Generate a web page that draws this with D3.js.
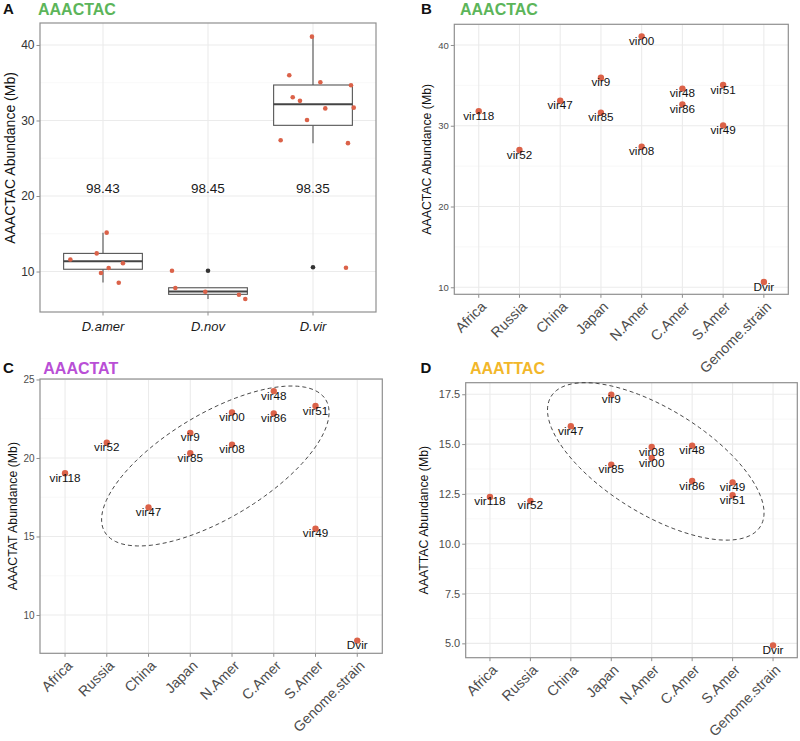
<!DOCTYPE html>
<html><head><meta charset="utf-8">
<script src="https://cdn.jsdelivr.net/npm/d3@7"></script>
<style>
body{margin:0;background:#fff}
text{font-family:"Liberation Sans",Arial,Helvetica,sans-serif}
</style>
</head><body>
<script>
// ---------------- DATA ----------------
// Panel A (boxplot by species)
const speciesA = ["D.amer", "D.nov", "D.vir"];
const boxQ1 = [10.3, 6.98, 29.36];
const boxMedian = [11.35, 7.37, 32.15];
const boxQ3 = [12.4, 7.85, 34.7];
const whiskerLow = [8.55, 6.36, 26.98];
const whiskerHigh = [15.15, 7.85, 41.1];
const outlierSpecies = ["D.nov", "D.vir"];
const outlierValues = [10.1, 10.56];
const identityLabels = ["98.43", "98.45", "98.35"];
const identityLabelValue = 21;
// jittered points (species, value, jitter offset as fraction of category step)
const jitterSpecies = ["D.amer","D.amer","D.amer","D.amer","D.amer","D.amer","D.amer",
  "D.nov","D.nov","D.nov","D.nov","D.nov",
  "D.vir","D.vir","D.vir","D.vir","D.vir","D.vir","D.vir","D.vir","D.vir","D.vir","D.vir","D.vir"];
const jitterValues = [11.6, 12.4, 15.15, 10.46, 11.1, 9.8, 8.52,
  10.1, 7.81, 7.33, 6.93, 6.36,
  41.1, 36.0, 35.06, 34.66, 33.07, 32.6, 31.6, 31.7, 30.07, 27.38, 27.0, 10.5];
const jitterOffsets = [-0.311, -0.06, 0.035, 0.054, 0.19, -0.019, 0.15,
  -0.343, -0.311, -0.026, 0.295, 0.355,
  -0.01, -0.226, 0.07, 0.362, -0.193, -0.124, 0.117, 0.388, -0.057, -0.308, 0.333, 0.314];

// Panels B, C, D (by strain / region)
const regions = ["Africa", "Russia", "China", "Japan", "N.Amer", "C.Amer", "S.Amer", "Genome.strain"];
const strains = ["vir118","vir52","vir47","vir9","vir85","vir00","vir08","vir48","vir86","vir51","vir49","Dvir"];
const strainRegion = ["Africa","Russia","China","Japan","Japan","N.Amer","N.Amer","C.Amer","C.Amer","S.Amer","S.Amer","Genome.strain"];
const aaactac = [31.8, 27.0, 33.1, 35.95, 31.6, 41.07, 27.4, 34.6, 32.65, 35.04, 30.04, 10.66];
const aaactat = [19.03, 20.97, 16.85, 21.6, 20.3, 22.9, 20.85, 24.26, 22.83, 23.31, 15.5, 8.37];
const aaattac = [12.35, 12.15, 15.9, 17.48, 13.97, 14.3, 14.85, 14.92, 13.15, 12.43, 13.08, 4.9];

const ticksB = [10, 20, 30, 40];
const ticksC = [10, 15, 20, 25];
const ticksD = [5.0, 7.5, 10.0, 12.5, 15.0, 17.5];
const ticksA = [10, 20, 30, 40];

// ---------------- STYLE ----------------
const PT = "#db6249";
const GRID = "#ebebeb", GRIDMIN = "#f4f4f4", BORDER = "#8f8f8f", TICK = "#8f8f8f";
const AXTXT = "#4d4d4d";

const svg = d3.select("body").append("svg").attr("width", 800).attr("height", 741);
svg.append("rect").attr("width", 800).attr("height", 741).attr("fill", "#fff");

function minorOf(t) {
  const out = [];
  for (let i = 0; i < t.length - 1; i++) out.push((t[i] + t[i + 1]) / 2);
  return out;
}

function frame(g, x, y, L, T, R, B, ticks, fmt, tickFont, tickColor) {
  const minor = minorOf(ticks);
  g.selectAll(".gmin").data(minor).join("line")
    .attr("x1", L).attr("x2", R).attr("y1", d => y(d)).attr("y2", d => y(d))
    .attr("stroke", GRIDMIN).attr("stroke-width", 0.6);
  g.selectAll(".gmaj").data(ticks).join("line")
    .attr("x1", L).attr("x2", R).attr("y1", d => y(d)).attr("y2", d => y(d))
    .attr("stroke", GRID).attr("stroke-width", 1.1);
  g.selectAll(".gx").data(x.domain()).join("line")
    .attr("x1", d => x(d)).attr("x2", d => x(d)).attr("y1", T).attr("y2", B)
    .attr("stroke", GRID).attr("stroke-width", 1.1);
  const ya = g.append("g").attr("transform", `translate(${L},0)`)
    .call(d3.axisLeft(y).tickValues(ticks).tickFormat(fmt).tickSize(3.5).tickPadding(2));
  ya.select(".domain").remove();
  ya.selectAll(".tick line").attr("stroke", TICK);
  ya.selectAll(".tick text").attr("fill", tickColor).style("font-size", tickFont + "px")
    .style("font-family", '"Liberation Sans",Arial,sans-serif');
  g.selectAll(".xt").data(x.domain()).join("line")
    .attr("x1", d => x(d)).attr("x2", d => x(d)).attr("y1", B).attr("y2", B + 3.5)
    .attr("stroke", TICK);
  g.append("rect").attr("x", L).attr("y", T).attr("width", R - L).attr("height", B - T)
    .attr("fill", "none").attr("stroke", BORDER).attr("stroke-width", 1.2);
}

function heading(letter, lx, title, tx, base, color, size) {
  svg.append("text").attr("x", lx).attr("y", base).text(letter)
    .style("font-weight", "bold").style("font-size", "15px").attr("fill", "#111");
  svg.append("text").attr("x", tx).attr("y", base + 1).text(title)
    .style("font-weight", "bold").style("font-size", size + "px").attr("fill", color);
}

function yTitle(text, cx, cy, size) {
  svg.append("text").attr("transform", `translate(${cx},${cy}) rotate(-90)`)
    .attr("text-anchor", "middle").attr("dy", "0.35em").text(text)
    .style("font-size", size + "px").attr("fill", "#111");
}

// ---------------- PANEL A ----------------
(function () {
  const L = 40, T = 23, R = 376, B = 312;
  const g = svg.append("g");
  const x = d3.scalePoint().domain(speciesA).range([L, R]).padding(0.6);
  const y = d3.scaleLinear().domain([4.64, 42.91]).range([B, T]);
  frame(g, x, y, L, T, R, B, ticksA, d3.format("d"), 12, "#333");
  const step = x.step(), bw = 0.75 * step;
  const bx = g.append("g");
  speciesA.forEach((s, i) => {
    const cx = x(s);
    bx.append("line").attr("x1", cx).attr("x2", cx).attr("y1", y(boxQ3[i])).attr("y2", y(whiskerHigh[i]))
      .attr("stroke", "#555").attr("stroke-width", 1.1);
    bx.append("line").attr("x1", cx).attr("x2", cx).attr("y1", y(boxQ1[i])).attr("y2", y(whiskerLow[i]))
      .attr("stroke", "#555").attr("stroke-width", 1.1);
    bx.append("rect").attr("x", cx - bw / 2).attr("width", bw)
      .attr("y", y(boxQ3[i])).attr("height", y(boxQ1[i]) - y(boxQ3[i]))
      .attr("fill", "#fff").attr("stroke", "#555").attr("stroke-width", 1.1);
    bx.append("line").attr("x1", cx - bw / 2).attr("x2", cx + bw / 2)
      .attr("y1", y(boxMedian[i])).attr("y2", y(boxMedian[i]))
      .attr("stroke", "#444").attr("stroke-width", 2);
  });
  g.selectAll(".out").data(outlierValues).join("circle")
    .attr("cx", (d, i) => x(outlierSpecies[i])).attr("cy", d => y(d)).attr("r", 2.3).attr("fill", "#333");
  g.selectAll(".jit").data(jitterValues).join("circle")
    .attr("cx", (d, i) => x(jitterSpecies[i]) + jitterOffsets[i] * step).attr("cy", d => y(d))
    .attr("r", 2.3).attr("fill", PT);
  g.selectAll(".idl").data(identityLabels).join("text")
    .attr("x", (d, i) => x(speciesA[i])).attr("y", y(identityLabelValue)).attr("dy", "0.35em")
    .attr("text-anchor", "middle").text(d => d).style("font-size", "13.5px").attr("fill", "#1a1a1a");
  g.selectAll(".xl").data(speciesA).join("text")
    .attr("x", d => x(d)).attr("y", B + 19).attr("text-anchor", "middle").text(d => d)
    .style("font-size", "13px").style("font-style", "italic").attr("fill", "#1a1a1a");
  yTitle("AAACTAC Abundance (Mb)", 10, 158, 14);
  heading("A", 3, "AAACTAC", 38, 14, "#5cb55a", 16);
})();

// ---------------- SCATTER PANELS ----------------
function scatterPanel(o) {
  const g = svg.append("g");
  const x = d3.scalePoint().domain(regions).range([o.L, o.R]).padding(0.6);
  const y = d3.scaleLinear().domain(o.domain).range([o.B, o.T]);
  frame(g, x, y, o.L, o.T, o.R, o.B, o.ticks, o.fmt, o.tickFont, AXTXT);
  g.selectAll(".xl").data(regions).join("text")
    .attr("transform", d => `translate(${x(d) + 1},${o.B + 6}) rotate(-45)`)
    .attr("text-anchor", "end").attr("dy", "0.72em").text(d => d)
    .style("font-size", "14.3px").attr("fill", AXTXT);
  if (o.ell) {
    const e = o.ell;
    const cx = x(regions[0]) + e.idx * x.step(), cy = y(e.val);
    const a = e.angle * Math.PI / 180;
    const pts = d3.range(0, 361, 3).map(t => {
      const r = t * Math.PI / 180;
      const px = e.rx * Math.cos(r), py = e.ry * Math.sin(r);
      return [cx + px * Math.cos(a) - py * Math.sin(a), cy + px * Math.sin(a) + py * Math.cos(a)];
    });
    g.append("path").attr("d", d3.line().curve(d3.curveLinearClosed)(pts))
      .attr("fill", "none").attr("stroke", "#333").attr("stroke-width", 0.9)
      .attr("stroke-dasharray", "4,3");
  }
  g.selectAll(".pt").data(o.values).join("circle")
    .attr("cx", (d, i) => x(strainRegion[i])).attr("cy", d => y(d))
    .attr("r", 3.2).attr("fill", PT);
  g.selectAll(".lab").data(o.values).join("text")
    .attr("x", (d, i) => x(strainRegion[i])).attr("y", d => y(d) + 8.6)
    .attr("text-anchor", "middle").text((d, i) => strains[i])
    .style("font-size", o.labFont + "px").attr("fill", "#111");
  yTitle(o.yTitle, o.yTitleX, (o.T + o.B) / 2, 12.3);
  heading(o.letter, o.letterX, o.title, o.titleX, o.base, o.color, 16);
}

scatterPanel({
  L: 454.3, T: 24.3, R: 788.3, B: 294.3, domain: [9.13, 42.56], ticks: ticksB,
  fmt: d3.format("d"), tickFont: 9.5, values: aaactac, labFont: 11.7,
  yTitle: "AAACTAC Abundance (Mb)", yTitleX: 426.7,
  letter: "B", letterX: 421, title: "AAACTAC", titleX: 460, base: 14, color: "#5cb55a"
});

scatterPanel({
  L: 40, T: 379, R: 382.3, B: 653.3, domain: [7.56, 25.03], ticks: ticksC,
  fmt: d3.format("d"), tickFont: 10, values: aaactat, labFont: 11.7,
  yTitle: "AAACTAT Abundance (Mb)", yTitleX: 12.5,
  letter: "C", letterX: 3, title: "AAACTAT", titleX: 43.3, base: 373, color: "#b94fd6",
  ell: { idx: 3.6, val: 19.49, rx: 128.8, ry: 52.4, angle: -30.9 }
});

scatterPanel({
  L: 465.7, T: 382.7, R: 797.3, B: 657.7, domain: [4.28, 18.08], ticks: ticksD,
  fmt: d3.format(".1f"), tickFont: 11, values: aaattac, labFont: 11.8,
  yTitle: "AAATTAC Abundance (Mb)", yTitleX: 424,
  letter: "D", letterX: 420.5, title: "AAATTAC", titleX: 470, base: 373, color: "#f2b72a",
  ell: { idx: 4.1, val: 14.13, rx: 123.2, ry: 52.4, angle: 31.8 }
});
</script>
</body></html>
